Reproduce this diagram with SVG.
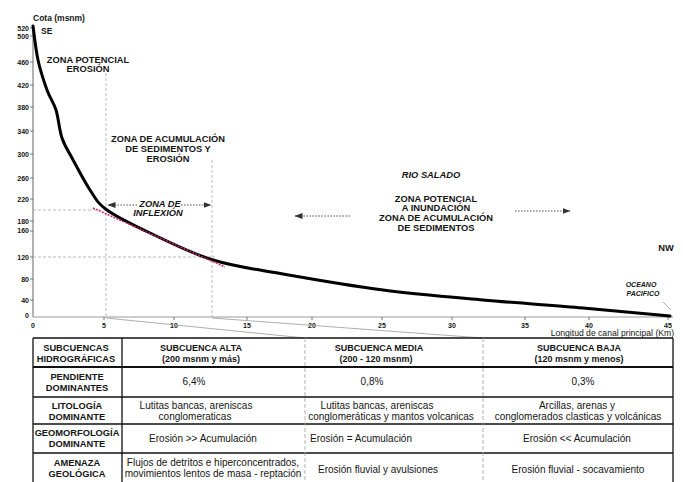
<svg xmlns="http://www.w3.org/2000/svg" width="683" height="482" viewBox="0 0 683 482">
<defs>
<style>
text{font-family:"Liberation Sans",Arial,sans-serif;fill:#151515}
.b{font-weight:bold}
.zone{font-size:9.3px;font-weight:bold;text-anchor:middle}
.it{font-style:italic}
.ay{font-size:7px;font-weight:bold;text-anchor:end}
.ax{font-size:7px;font-weight:bold;text-anchor:middle}
.th{font-size:9.3px;font-weight:bold;text-anchor:middle}
.ch{font-size:9px;font-weight:bold;text-anchor:middle}
.td{font-size:10px;text-anchor:middle}
.grid{stroke:#a8a8a8;stroke-width:0.8;stroke-dasharray:3 2;fill:none}
.arr{stroke:#444;stroke-width:0.9;stroke-dasharray:1.6 1.4;fill:none}
.tl{stroke:#111;stroke-width:1.3;fill:none}
.tg{stroke:#aaa;stroke-width:0.9;stroke-dasharray:4 2;fill:none}
.tick{stroke:#555;stroke-width:0.8}
</style>
<marker id="ah" viewBox="0 0 8 6" refX="7.5" refY="3" markerWidth="8" markerHeight="6" markerUnits="userSpaceOnUse" orient="auto">
<path d="M0,0 L8,3 L0,6 Z" fill="#333"/>
</marker>
</defs>
<rect width="683" height="482" fill="#fff"/>

<g id="axes">
<line x1="33" y1="25" x2="33" y2="317" stroke="#666" stroke-width="1"/>
<line x1="33" y1="317" x2="673" y2="317" stroke="#999" stroke-width="1"/>
<g class="tick">
<line x1="30" y1="28" x2="33" y2="28"/><line x1="30" y1="36" x2="33" y2="36"/><line x1="30" y1="62" x2="33" y2="62"/><line x1="30" y1="85" x2="33" y2="85"/><line x1="30" y1="107" x2="33" y2="107"/><line x1="30" y1="131" x2="33" y2="131"/><line x1="30" y1="154" x2="33" y2="154"/><line x1="30" y1="178" x2="33" y2="178"/><line x1="30" y1="199" x2="33" y2="199"/><line x1="30" y1="221" x2="33" y2="221"/><line x1="30" y1="231" x2="33" y2="231"/><line x1="30" y1="257" x2="33" y2="257"/><line x1="30" y1="279" x2="33" y2="279"/><line x1="30" y1="300" x2="33" y2="300"/>
<line x1="104" y1="317" x2="104" y2="320"/><line x1="174" y1="317" x2="174" y2="320"/><line x1="247" y1="317" x2="247" y2="320"/><line x1="312" y1="317" x2="312" y2="320"/><line x1="382" y1="317" x2="382" y2="320"/><line x1="452" y1="317" x2="452" y2="320"/><line x1="525" y1="317" x2="525" y2="320"/><line x1="589" y1="317" x2="589" y2="320"/><line x1="668" y1="317" x2="668" y2="320"/>
</g>
<text class="ay" x="29" y="30.5">520</text>
<text class="ay" x="29" y="38.5">500</text>
<text class="ay" x="29" y="64.5">460</text>
<text class="ay" x="29" y="87.5">420</text>
<text class="ay" x="29" y="109.5">380</text>
<text class="ay" x="29" y="133.5">340</text>
<text class="ay" x="29" y="156.5">300</text>
<text class="ay" x="29" y="180.5">260</text>
<text class="ay" x="29" y="201.5">220</text>
<text class="ay" x="29" y="223.5">180</text>
<text class="ay" x="29" y="233">160</text>
<text class="ay" x="29" y="259.5">120</text>
<text class="ay" x="29" y="281.5">80</text>
<text class="ay" x="29" y="302.5">40</text>
<text class="ay" x="29" y="318">0</text>
<text class="ax" x="33" y="328">0</text>
<text class="ax" x="104" y="328">5</text>
<text class="ax" x="174" y="328">10</text>
<text class="ax" x="247" y="328">15</text>
<text class="ax" x="312" y="328">20</text>
<text class="ax" x="382" y="328">25</text>
<text class="ax" x="452" y="328">30</text>
<text class="ax" x="525" y="328">35</text>
<text class="ax" x="589" y="328">40</text>
<text class="ax" x="668" y="328">45</text>
<text x="33" y="21" style="font-size:8.5px;font-weight:bold">Cota (msnm)</text>
<text x="674" y="336" style="font-size:8.6px;text-anchor:end">Longitud de canal principal (Km)</text>
</g>

<g id="guides">
<line class="grid" x1="106" y1="73" x2="106" y2="317"/>
<line class="grid" x1="212" y1="160" x2="212" y2="317"/>
<line class="grid" x1="33" y1="210" x2="106" y2="210"/>
<line class="grid" x1="33" y1="257" x2="215" y2="257"/>
<line x1="106" y1="318" x2="305" y2="338" stroke="#999" stroke-width="0.8"/>
<line x1="212" y1="318" x2="483" y2="338" stroke="#999" stroke-width="0.8"/>
</g>

<g id="profile">
<path d="M33,26 C33.8,31.7 35.7,49.3 38,60 C40.3,70.7 44,81.7 47,90 C50,98.3 53.5,102 56,110 C58.5,118 59.3,130 62,138 C64.7,146 67.3,149.3 72,158 C76.7,166.7 84.2,181.3 90,190 C95.8,198.7 97,202.8 107,210 C117,217.2 132.3,224.7 150,233 C167.7,241.3 190.8,253.2 213,260 C235.2,266.8 254.7,269 283,274 C311.3,279 349.7,285.7 383,290 C416.3,294.3 449.7,297 483,300 C516.3,303 551.8,305.3 583,308 C614.2,310.7 655.5,314.7 670,316" fill="none" stroke="#000" stroke-width="3" stroke-linejoin="round" stroke-linecap="round"/>
<line x1="93" y1="208" x2="225" y2="267" stroke="#c4286e" stroke-width="1.5" stroke-dasharray="2 1.2"/>
</g>

<g id="labels">
<text x="41" y="34" class="b" style="font-size:8.5px">SE</text>
<text class="zone" x="88" y="62.5">ZONA POTENCIAL</text>
<text class="zone" x="88" y="71.5">EROSIÓN</text>
<text class="zone" x="168" y="141.5">ZONA DE ACUMULACIÓN</text>
<text class="zone" x="168" y="151.5">DE SEDIMENTOS Y</text>
<text class="zone" x="168" y="161.5">EROSIÓN</text>
<text class="zone it" x="160" y="206.5">ZONA DE</text>
<text class="zone it" x="158" y="215.5">INFLEXIÓN</text>
<text class="zone it" x="431" y="178">RIO SALADO</text>
<text class="zone" x="436" y="201.5">ZONA POTENCIAL</text>
<text class="zone" x="436" y="210.5">A INUNDACIÓN</text>
<text class="zone" x="436" y="220.5">ZONA DE ACUMULACIÓN</text>
<text class="zone" x="436" y="230.5">DE SEDIMENTOS</text>
<text class="zone" x="666" y="250.5">NW</text>
<text class="zone it" x="641" y="286.5" style="font-size:7px">OCEANO</text>
<text class="zone it" x="643" y="295.5" style="font-size:7px">PACIFICO</text>
</g>

<g id="connectors">
<line class="arr" x1="137" y1="205" x2="108" y2="205" marker-end="url(#ah)"/>
<line class="arr" x1="181" y1="205" x2="211" y2="205" marker-end="url(#ah)"/>
<line class="arr" x1="350" y1="216" x2="295" y2="216" marker-end="url(#ah)"/>
<line class="arr" x1="515" y1="211" x2="570" y2="211" marker-end="url(#ah)"/>
<line x1="663" y1="302" x2="671" y2="310" stroke="#999" stroke-width="0.8"/>
</g>

<g id="table">
<line class="tl" x1="33" y1="338" x2="673" y2="338"/>
<line class="tl" x1="33" y1="367" x2="673" y2="367" style="stroke-width:2"/>
<line class="tl" x1="33" y1="397" x2="673" y2="397"/>
<line class="tl" x1="33" y1="424" x2="673" y2="424"/>
<line class="tl" x1="33" y1="453" x2="673" y2="453"/>
<line class="tl" x1="33" y1="338" x2="33" y2="482"/>
<line class="tl" x1="122" y1="338" x2="122" y2="482"/>
<line class="tl" x1="673" y1="338" x2="673" y2="482"/>
<line class="tg" x1="305" y1="338" x2="305" y2="482"/>
<line class="tg" x1="483" y1="338" x2="483" y2="482"/>

<g id="row-subcuencas">
<text class="th" x="76" y="350.5">SUBCUENCAS</text>
<text class="th" x="76" y="361.5">HIDROGRÁFICAS</text>
<text class="ch" x="201" y="350.5">SUBCUENCA  ALTA</text>
<text class="ch" x="201" y="361.5">(200 msnm y más)</text>
<text class="ch" x="379" y="350.5">SUBCUENCA MEDIA</text>
<text class="ch" x="376" y="361.5">(200 - 120 msnm)</text>
<text class="ch" x="579" y="350.5">SUBCUENCA BAJA</text>
<text class="ch" x="579" y="361.5">(120 msnm y menos)</text>
</g>
<g id="row-pendiente">
<text class="th" x="77" y="380">PENDIENTE</text>
<text class="th" x="77" y="391">DOMINANTES</text>
<text class="td" x="194" y="385">6,4%</text>
<text class="td" x="372" y="385">0,8%</text>
<text class="td" x="583" y="385">0,3%</text>
</g>
<g id="row-litologia">
<text class="th" x="77" y="408.5">LITOLOGÍA</text>
<text class="th" x="77" y="419.5">DOMINANTE</text>
<text class="td" x="196" y="408.5">Lutitas bancas, areniscas</text>
<text class="td" x="195" y="419.5">conglomeraticas</text>
<text class="td" x="377" y="408.5">Lutitas bancas, areniscas</text>
<text class="td" x="391" y="419.5">conglomeráticas y mantos volcanicas</text>
<text class="td" x="577" y="408.5">Arcillas, arenas y</text>
<text class="td" x="578" y="419.5">conglomerados clasticas y volcánicas</text>
</g>
<g id="row-geomorfologia">
<text class="th" x="77" y="435.5">GEOMORFOLOGÍA</text>
<text class="th" x="77" y="446.5">DOMINANTE</text>
<text class="td" x="203" y="442">Erosión &gt;&gt; Acumulación</text>
<text class="td" x="361" y="442">Erosión = Acumulación</text>
<text class="td" x="577" y="442">Erosión &lt;&lt; Acumulación</text>
</g>
<g id="row-amenaza">
<text class="th" x="77" y="465.5">AMENAZA</text>
<text class="th" x="77" y="476.5">GEOLÓGICA</text>
<text class="td" x="213" y="465.5">Flujos de detritos e hiperconcentrados,</text>
<text class="td" x="213" y="476.5">movimientos lentos de masa - reptación</text>
<text class="td" x="378" y="473">Erosión fluvial y avulsiones</text>
<text class="td" x="578" y="473">Erosión fluvial - socavamiento</text>
</g>
</g>
</svg>
